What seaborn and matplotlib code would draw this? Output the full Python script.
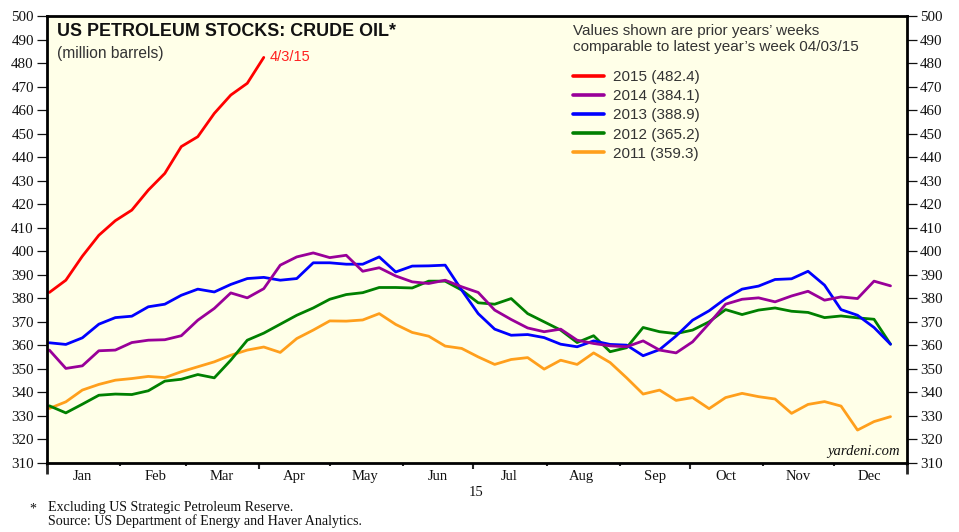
import numpy as np
import pandas as pd
import matplotlib
matplotlib.use("Agg")
import matplotlib.pyplot as plt
import matplotlib.dates as mdates
import seaborn as sns

# ---------------------------------------------------------------------------
# Data (million barrels, weekly; prior years aligned to 2015 weeks)
# ---------------------------------------------------------------------------
weeks = pd.date_range("2015-01-02", periods=52, freq="7D")

crude_2015 = [382.5, 387.7, 397.9, 406.8, 413.0, 417.5, 426.0, 433.1, 444.5,
              448.7, 458.6, 466.4, 471.4, 482.4]

crude_2014 = [358.0, 350.2, 351.3, 357.7, 358.0, 361.2, 362.2, 362.4, 364.1,
              370.7, 375.7, 382.3, 380.2, 384.1, 394.1, 397.6, 399.3, 397.3,
              398.3, 391.5, 393.0, 389.5, 387.0, 386.3, 387.7, 384.9, 382.5,
              375.0, 371.0, 367.4, 365.8, 366.9, 362.2, 360.8, 359.8, 359.4,
              361.9, 358.0, 356.8, 361.5, 369.3, 377.5, 379.6, 380.2, 378.5,
              381.0, 383.0, 379.2, 380.6, 379.9, 387.3, 385.3]

crude_2013 = [361.1, 360.4, 363.2, 369.0, 371.8, 372.4, 376.4, 377.5, 381.3,
              383.9, 382.7, 385.9, 388.4, 388.9, 387.7, 388.4, 395.1, 395.1,
              394.5, 394.5, 397.6, 391.2, 393.7, 393.8, 394.1, 383.5, 373.5,
              366.9, 364.3, 364.6, 363.3, 360.5, 359.4, 361.9, 360.4, 360.1,
              355.6, 358.2, 364.0, 370.7, 374.7, 379.9, 383.9, 385.2, 388.0,
              388.3, 391.5, 385.6, 375.2, 372.8, 367.6, 360.5]

crude_2012 = [334.3, 331.3, 335.0, 338.8, 339.3, 339.1, 340.7, 344.8, 345.6,
              347.6, 346.2, 353.7, 362.2, 365.2, 369.0, 372.8, 375.9, 379.6,
              381.6, 382.4, 384.6, 384.6, 384.4, 387.3, 387.3, 383.5, 378.1,
              377.5, 379.9, 373.5, 370.0, 366.5, 361.2, 364.1, 357.3, 359.0,
              367.6, 365.8, 365.0, 366.5, 370.0, 375.2, 373.1, 375.0, 375.9,
              374.5, 374.0, 371.8, 372.5, 371.7, 371.1, 360.5]

crude_2011 = [333.2, 336.0, 341.0, 343.4, 345.2, 345.9, 346.8, 346.3, 348.8,
              350.9, 353.0, 355.8, 358.0, 359.3, 357.0, 362.9, 366.5, 370.4,
              370.3, 370.8, 373.5, 368.9, 365.5, 363.9, 359.7, 358.7, 355.1,
              351.9, 354.0, 354.8, 349.9, 353.7, 351.9, 356.8, 352.7, 346.2,
              339.3, 341.0, 336.6, 337.8, 333.1, 337.8, 339.6, 338.2, 337.2,
              331.1, 334.9, 336.1, 334.2, 324.0, 327.6, 329.7]

years = ["2015", "2014", "2013", "2012", "2011"]
series = [crude_2015, crude_2014, crude_2013, crude_2012, crude_2011]
colors = ["#FF0000", "#990099", "#0000FF", "#008000", "#FF9F1C"]

SERIF = "Liberation Serif"
SANS = "Liberation Sans"
BG = "#FFFFE8"

sns.set_theme(style="ticks")
plt.rcParams["font.family"] = [SERIF, "DejaVu Serif"]

fig = plt.figure(figsize=(9.59, 5.32), dpi=100)
ax = fig.add_axes([47 / 959, 1 - 463 / 532, 860 / 959, 447 / 532])
ax.set_facecolor(BG)

# long frame for seaborn
frames = []
for yr, vals in zip(years, series):
    frames.append(pd.DataFrame({"week": weeks[:len(vals)], "value": vals,
                                "year": yr}))
df = pd.concat(frames, ignore_index=True)

handles = {}
for yr, col in reversed(list(zip(years, colors))):
    sub = df[df["year"] == yr]
    sns.lineplot(data=sub, x="week", y="value", color=col, linewidth=2.0,
                 ax=ax, legend=False)
    handles[yr] = ax.get_lines()[-1]

# ---------------------------------------------------------------------------
# Axes
# ---------------------------------------------------------------------------
ax.set_xlim(pd.Timestamp("2015-01-01"), pd.Timestamp("2016-01-01"))
ax.set_ylim(310, 500)
ax.set_yticks(np.arange(310, 501, 10))
ax.set_xlabel("")
ax.set_ylabel("")

for s in ax.spines.values():
    s.set_visible(True)
    s.set_linewidth(2.0)
    s.set_color("black")

ax.tick_params(axis="y", which="both", left=True, right=True,
               labelleft=True, labelright=True, direction="out",
               length=7, width=0.9, pad=2.5, labelsize=10.8, colors="#111111")

ax.xaxis.set_major_locator(mdates.MonthLocator())
ax.xaxis.set_major_formatter(plt.NullFormatter())
ax.xaxis.set_minor_locator(mdates.MonthLocator(bymonthday=16))
ax.xaxis.set_minor_formatter(mdates.DateFormatter("%b"))
ax.tick_params(axis="x", which="major", length=2.5, width=1.5, direction="out")
ax.tick_params(axis="x", which="minor", length=0, pad=5, labelsize=10.5,
               colors="#111111")

# quarter and year boundary ticks
qax = ax.secondary_xaxis("bottom")
qax.set_xticks(mdates.date2num(pd.to_datetime(["2015-04-01", "2015-07-01",
                                               "2015-10-01"])))
qax.tick_params(length=4.5, width=1.5, labelbottom=False)
qax.spines["bottom"].set_visible(False)
yax = ax.secondary_xaxis("bottom")
yax.set_xticks(mdates.date2num(pd.to_datetime(["2015-01-01", "2016-01-01"])))
yax.tick_params(length=8, width=2.0, labelbottom=False)
yax.spines["bottom"].set_visible(False)

# ---------------------------------------------------------------------------
# Text
# ---------------------------------------------------------------------------
ax.text(0.012, 0.985, "US PETROLEUM STOCKS: CRUDE OIL*", transform=ax.transAxes,
        ha="left", va="top", fontsize=12.9, fontweight="bold",
        family=SANS, color="#111111")
ax.text(0.012, 0.933, "(million barrels)", transform=ax.transAxes,
        ha="left", va="top", fontsize=11.2, family=SANS, color="#333333")

ax.annotate("4/3/15", xy=(weeks[len(crude_2015) - 1], crude_2015[-1]),
            xytext=(4, 0), textcoords="offset points", ha="left",
            va="center", fontsize=10.5, family=SANS, color="#FF2020")

ax.text(0.612, 0.982, "Values shown are prior years\u2019 weeks\n"
        "comparable to latest year\u2019s week 04/03/15",
        transform=ax.transAxes, ha="left", va="top", fontsize=11,
        family=SANS, color="#333333", linespacing=1.2)

labels = [f"{yr} ({vals[13]:.1f})" for yr, vals in zip(years, series)]
leg = ax.legend([handles[y] for y in years], labels, loc="upper left",
                bbox_to_anchor=(0.605, 0.893), frameon=False,
                prop={"family": SANS, "size": 11}, handlelength=2.0,
                handletextpad=0.6, labelspacing=0.34, borderaxespad=0)
for t in leg.get_texts():
    t.set_color("#333333")
for h in leg.legend_handles:
    h.set_linewidth(2.6)

ax.text(0.992, 0.012, "yardeni.com", transform=ax.transAxes, ha="right",
        va="bottom", fontsize=10.5, style="italic", color="#111111")

fig.text(476 / 959, 1 - 492 / 532, "15", ha="center", va="center",
         fontsize=10.5, color="#111111")
fig.text(33 / 959, 1 - 509 / 532, "*", ha="center", va="center",
         fontsize=10, color="#111111")
fig.text(48 / 959, 1 - 508 / 532, "Excluding US Strategic Petroleum Reserve.",
         ha="left", va="center", fontsize=10.1, color="#111111")
fig.text(48 / 959, 1 - 521 / 532,
         "Source: US Department of Energy and Haver Analytics.",
         ha="left", va="center", fontsize=10.1, color="#111111")

fig.savefig("out.png", dpi=100, facecolor="white")
